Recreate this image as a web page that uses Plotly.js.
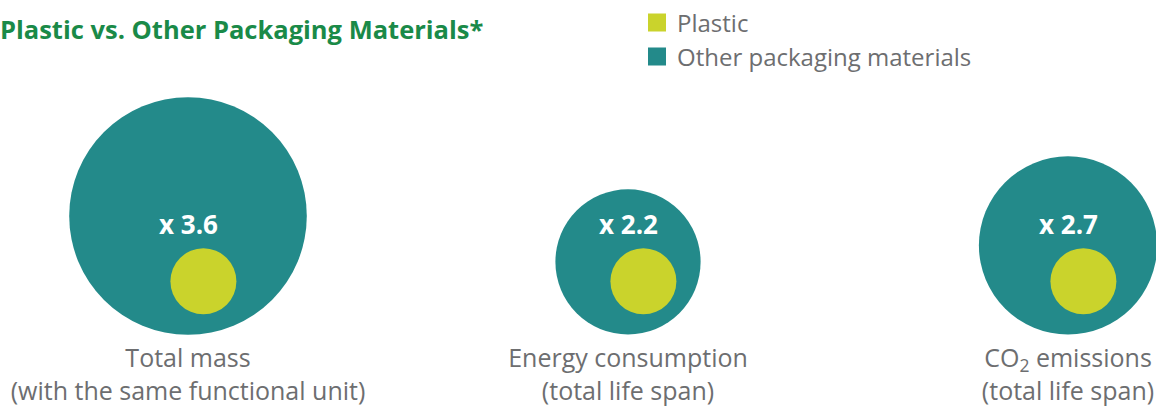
<!DOCTYPE html>
<html><head><meta charset="utf-8">
<script src="https://cdn.plot.ly/plotly-3.0.1.min.js"></script>
<style>html,body{margin:0;padding:0;background:#fff;overflow:hidden}</style>
</head><body>
<div id="chart" style="width:1156px;height:411px"></div>
<script>
// ---- data ----
const categories = [
  "Total mass<br>(with the same functional unit)",
  "Energy consumption<br>(total life span)",
  "CO<sub>2</sub> emissions<br>(total life span)"
];
const plasticValues = [1, 1, 1];            // plastic = reference (1x)
const otherMultipliers = [3.6, 2.2, 2.7];   // other packaging materials, multiple of plastic
const multiplierLabels = ["x 3.6", "x 2.2", "x 2.7"];
const seriesNames = ["Plastic", "Other packaging materials"];

// ---- styles / scales ----
const TEAL = "#238a8a", LIME = "#cad32c", GREY = "#6d6e70", GREEN = "#1a8a48";
const FONT = "Open Sans, Noto Sans, sans-serif";
const PX_PER_UNIT = 33;          // circle radius (px) for a value of 1
const PLASTIC_LIFT = 20;         // px between plastic circle bottom and baseline
const LABEL_HEIGHT = 111;        // px above baseline for multiplier labels

const idx = categories.map((_, i) => i);

const otherTrace = {
  type: "scatter", mode: "markers", name: seriesNames[1],
  x: idx,
  y: otherMultipliers.map(v => v * PX_PER_UNIT),   // bottom-aligned circles
  marker: { size: otherMultipliers, sizemode: "diameter", sizeref: 1 / (2 * PX_PER_UNIT),
            color: TEAL, line: { width: 0 }, opacity: 1 },
  cliponaxis: false, hoverinfo: "skip", legendrank: 2, legendgroup: "o"
};
const plasticTrace = {
  type: "scatter", mode: "markers", name: seriesNames[0],
  x: idx.map(i => i + 0.035),
  y: plasticValues.map(v => v * PX_PER_UNIT + PLASTIC_LIFT),
  marker: { size: plasticValues, sizemode: "diameter", sizeref: 1 / (2 * PX_PER_UNIT),
            color: LIME, line: { width: 0 }, opacity: 1 },
  cliponaxis: false, hoverinfo: "skip", legendrank: 1, legendgroup: "p"
};

const annotations = multiplierLabels.map((t, i) => ({
  x: i, y: LABEL_HEIGHT, xref: "x", yref: "y", text: "<b>" + t + "</b>",
  showarrow: false, font: { family: FONT, size: 26, color: "#ffffff" },
  xanchor: "center", yanchor: "middle"
}));

const layout = {
  width: 1156, height: 411,
  margin: { l: 0, r: 0, t: 0, b: 70, pad: 0 },
  paper_bgcolor: "#ffffff", plot_bgcolor: "#ffffff",
  showlegend: true,
  title: {
    text: "<b>Plastic vs. Other Packaging Materials*</b>",
    font: { family: FONT, size: 25.5, color: GREEN },
    xref: "container", x: 0, xanchor: "left",
    yref: "container", y: 0.928, yanchor: "middle"
  },
  legend: {
    x: 637 / 1156, xanchor: "left", y: 1.005, yanchor: "top",
    font: { family: FONT, size: 24, color: GREY },
    bgcolor: "rgba(0,0,0,0)", tracegroupgap: 0, traceorder: "grouped"
  },
  xaxis: {
    range: [-188 / 440, (1156 - 188) / 440],
    tickmode: "array", tickvals: idx, ticktext: categories,
    tickfont: { family: FONT, size: 25, color: GREY },
    ticks: "", showgrid: false, zeroline: false, showline: false, fixedrange: true
  },
  yaxis: {
    range: [-7, 334], visible: false, showgrid: false, zeroline: false, fixedrange: true
  },
  annotations: annotations
};

Plotly.newPlot("chart", [otherTrace, plasticTrace], layout, { displayModeBar: false, staticPlot: true })
  .then(gd => {
    // square legend swatches, as in the original
    gd.querySelectorAll(".legend .legendpoints path.scatterpts").forEach(p => {
      p.setAttribute("d", "M9,9H-9V-9H9Z");
    });
  });
</script>
</body></html>
